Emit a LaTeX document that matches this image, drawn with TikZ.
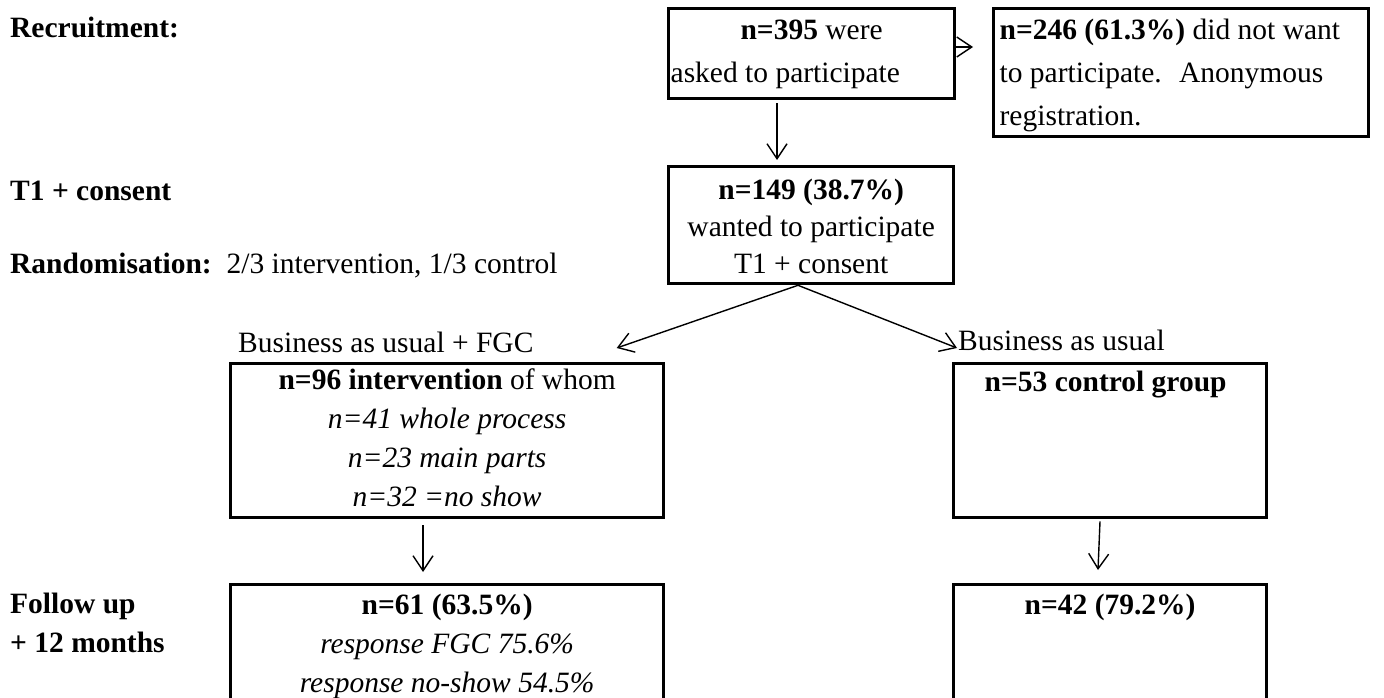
\documentclass[tikz,border=0pt]{standalone}
\usepackage{fontspec}
\setmainfont{Liberation Serif}
\usetikzlibrary{arrows.meta,calc}
\begin{document}
\begin{tikzpicture}[x=1pt,y=-1pt,
  every node/.style={font=\fontsize{29.5}{39}\selectfont},
  box/.style={draw, line width=3.3pt, inner sep=0pt, anchor=north west},
  lab/.style={inner sep=0pt, anchor=base west},
  arr/.style={-{Straight Barb[length=15pt,width=20pt]}, line width=1.4pt}]
\clip (0,0) rectangle (1384,698);
% boxes
\node[box] (b1) at (667,7) {\parbox[c][90pt][t]{286pt}{\baselineskip=43pt\centering\rule{0pt}{31pt}\textbf{n=395} were\\\hspace*{2pt}asked to participate\hfill\null}};
\node[box] (b2) at (992,7) {\parbox[c][128pt][t]{375pt}{\baselineskip=43pt\raggedright\leftskip=6pt\rule{0pt}{31pt}\textbf{n=246 (61.3\%)} did not want\\to participate.~ Anonymous\\registration.}};
\node[box] (b3) at (667,165) {\parbox[c][117pt][t]{285pt}{\baselineskip=37pt\centering\rule{0pt}{33pt}\textbf{n=149 (38.7\%)}\\wanted to participate\\T1 + consent}};
\node[box] (b4) at (229,362) {\parbox[c][154pt][t]{433pt}{\baselineskip=39pt\centering\rule{0pt}{26pt}\textbf{n=96 intervention} of whom\\\textit{n=41 whole process}\\\textit{n=23 main parts}\\\textit{n=32 =no show}}};
\node[box] (b5) at (952,362) {\parbox[c][154pt][t]{313pt}{\raggedright\leftskip=31pt\rule{0pt}{28pt}\textbf{n=53 control group}}};
\node[box] (b6) at (229,583) {\parbox[c][140pt][t]{433pt}{\baselineskip=39pt\centering\rule{0pt}{30pt}\textbf{n=61 (63.5\%)}\\\textit{response FGC 75.6\%}\\\textit{response no-show 54.5\%}}};
\node[box] (b7) at (952,583) {\parbox[c][140pt][t]{313pt}{\centering\rule{0pt}{30pt}\textbf{n=42 (79.2\%)}}};
% side labels
\node[lab] (rec) at (10,38) {\textbf{Recruitment:}};
\node[lab] (t1) at (10,200) {\textbf{T1 + consent}};
\node[lab] (rand) at (10,273) {\textbf{Randomisation:}\ \ 2/3 intervention, 1/3 control};
\node[lab] (fu1) at (10,613) {\textbf{Follow up}};
\node[lab] (fu2) at (10,652) {\textbf{+ 12 months}};
\node[lab] (l4) at (238,352) {Business as usual + FGC};
\node[lab] (l5) at (958,350) {Business as usual};
% connectors
\coordinate (split) at ($(b3.south west)+(131,0)$);
\draw[arr] ($(b1.north west)+(288,40)$) -- ($(b2.north west)+(-19,40)$);
\draw[arr] ($(b1.south west)+(110,3)$) -- ($(b3.north west)+(110,-5)$);
\draw[arr] (split) -- ($(l4.base east)+(83,-4)$);
\draw[arr] (split) -- ($(l5.base west)+(-1,-2)$);
\draw[arr] ($(b4.south west)+(194,6)$) -- ($(b6.north west)+(194,-11)$);
\draw[arr] ($(b5.south west)+(148,2)$) -- ($(b7.north west)+(146,-13)$);
\end{tikzpicture}
\end{document}
